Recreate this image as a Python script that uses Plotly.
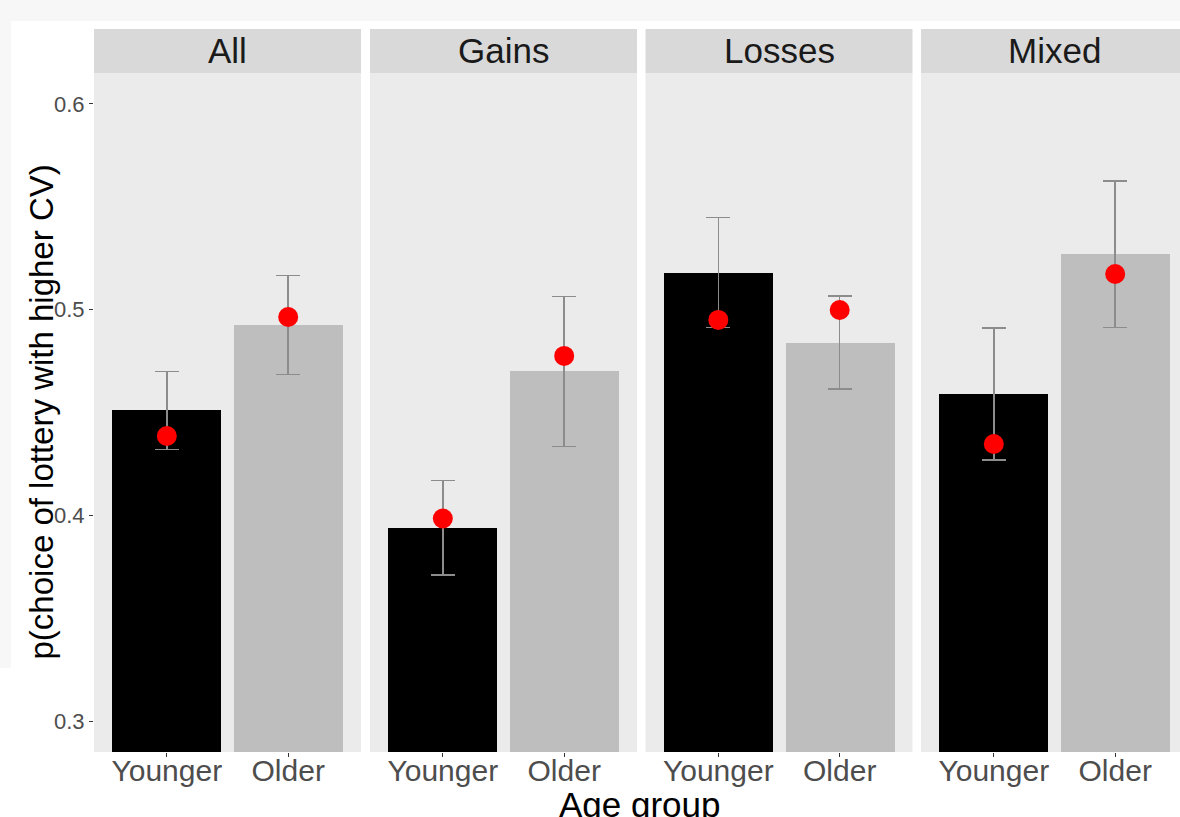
import plotly.graph_objects as go

# Facets and groups
panels = ["All", "Gains", "Losses", "Mixed"]
groups = ["Younger", "Older"]

# Observed proportions (bars) with standard errors
younger_mean = [0.451, 0.394, 0.518, 0.459]
older_mean = [0.4925, 0.470, 0.484, 0.527]
younger_se = [0.019, 0.023, 0.0267, 0.032]
older_se = [0.024, 0.0365, 0.0226, 0.0356]

# Model predictions (red points)
younger_pred = [0.4386, 0.3985, 0.495, 0.4347]
older_pred = [0.4964, 0.4775, 0.4998, 0.5173]

y_ticks = [0.3, 0.4, 0.5, 0.6]

W, H = 1180, 817
FONT = "Liberation Sans, Arial, sans-serif"


def px(x):
    return x / W


def py(y):
    return 1 - y / H


panel_left = [94, 370, 645.5, 921]
panel_w = 267
plot_top, plot_bottom = 73, 752
strip_top = 29
unit_px = panel_w / 2.2  # pixels per category step

fig = go.Figure()
shapes = []
annotations = []

for i, name in enumerate(panels):
    ax = "x" if i == 0 else f"x{i + 1}"
    x0 = panel_left[i]
    x1 = min(x0 + panel_w, W)
    vis_w = x1 - x0
    rng = [-0.6, -0.6 + vis_w / unit_px]

    fig.add_trace(go.Bar(
        x=groups,
        y=[younger_mean[i], older_mean[i]],
        width=0.9,
        marker=dict(color=["#000000", "#bebebe"], line=dict(width=0)),
        error_y=dict(type="data", array=[younger_se[i], older_se[i]],
                     color="#8c8c8c", thickness=1.5, width=12),
        xaxis=ax, yaxis="y", showlegend=False, hoverinfo="skip",
    ))
    fig.add_trace(go.Scatter(
        x=groups,
        y=[younger_pred[i], older_pred[i]],
        mode="markers",
        marker=dict(color="#ff0000", size=20),
        xaxis=ax, yaxis="y", showlegend=False, hoverinfo="skip",
    ))

    axis_key = "xaxis" if i == 0 else f"xaxis{i + 1}"
    fig.update_layout(**{axis_key: dict(
        domain=[px(x0), px(x1)],
        anchor="y",
        type="category",
        categoryorder="array",
        categoryarray=groups,
        range=rng,
        showgrid=False,
        zeroline=False,
        showline=False,
        ticks="outside",
        ticklen=4,
        tickwidth=1,
        tickcolor="#333333",
        ticklabelstandoff=-12,
        tickfont=dict(family=FONT, size=30, color="#4d4d4d"),
        fixedrange=True,
    )})

    # facet strip
    shapes.append(dict(type="rect", xref="paper", yref="paper",
                       x0=px(x0), x1=px(x1), y0=py(plot_top), y1=py(strip_top),
                       fillcolor="#d9d9d9", line=dict(width=0), layer="below"))
    annotations.append(dict(
        text=name, xref="paper", yref="paper",
        x=px(x0 + panel_w / 2), y=py((strip_top + plot_top) / 2),
        xanchor="center", yanchor="middle", showarrow=False,
        font=dict(family=FONT, size=35, color="#1a1a1a"),
    ))

# light frame around the figure canvas
shapes.append(dict(type="rect", xref="paper", yref="paper",
                   x0=0, x1=1, y0=py(21), y1=1,
                   fillcolor="#f7f7f7", line=dict(width=0), layer="below"))
shapes.append(dict(type="rect", xref="paper", yref="paper",
                   x0=0, x1=px(11), y0=py(668), y1=1,
                   fillcolor="#f7f7f7", line=dict(width=0), layer="below"))

# axis titles
annotations.append(dict(
    text="p(choice of lottery with higher CV)", xref="paper", yref="paper",
    x=px(41), y=py((plot_top + plot_bottom) / 2), textangle=-90,
    xanchor="center", yanchor="middle", showarrow=False,
    font=dict(family=FONT, size=33, color="#000000"),
))
annotations.append(dict(
    text="Age group", xref="paper", yref="paper",
    x=px(640), y=py(804),
    xanchor="center", yanchor="middle", showarrow=False,
    font=dict(family=FONT, size=35, color="#000000"),
))

fig.update_layout(
    width=W, height=H,
    autosize=False,
    margin=dict(l=0, r=0, t=0, b=0),
    paper_bgcolor="#ffffff",
    plot_bgcolor="#ebebeb",
    bargap=0,
    yaxis=dict(
        domain=[py(plot_bottom), py(plot_top)],
        anchor="x",
        range=[0.285, 0.615],
        tickvals=y_ticks,
        tickformat=".1f",
        showgrid=False,
        zeroline=False,
        showline=False,
        ticks="outside",
        ticklen=4,
        tickwidth=1,
        tickcolor="#333333",
        tickfont=dict(family=FONT, size=22, color="#4d4d4d"),
        fixedrange=True,
    ),
    shapes=shapes,
    annotations=annotations,
)

fig.write_html("out.html")
